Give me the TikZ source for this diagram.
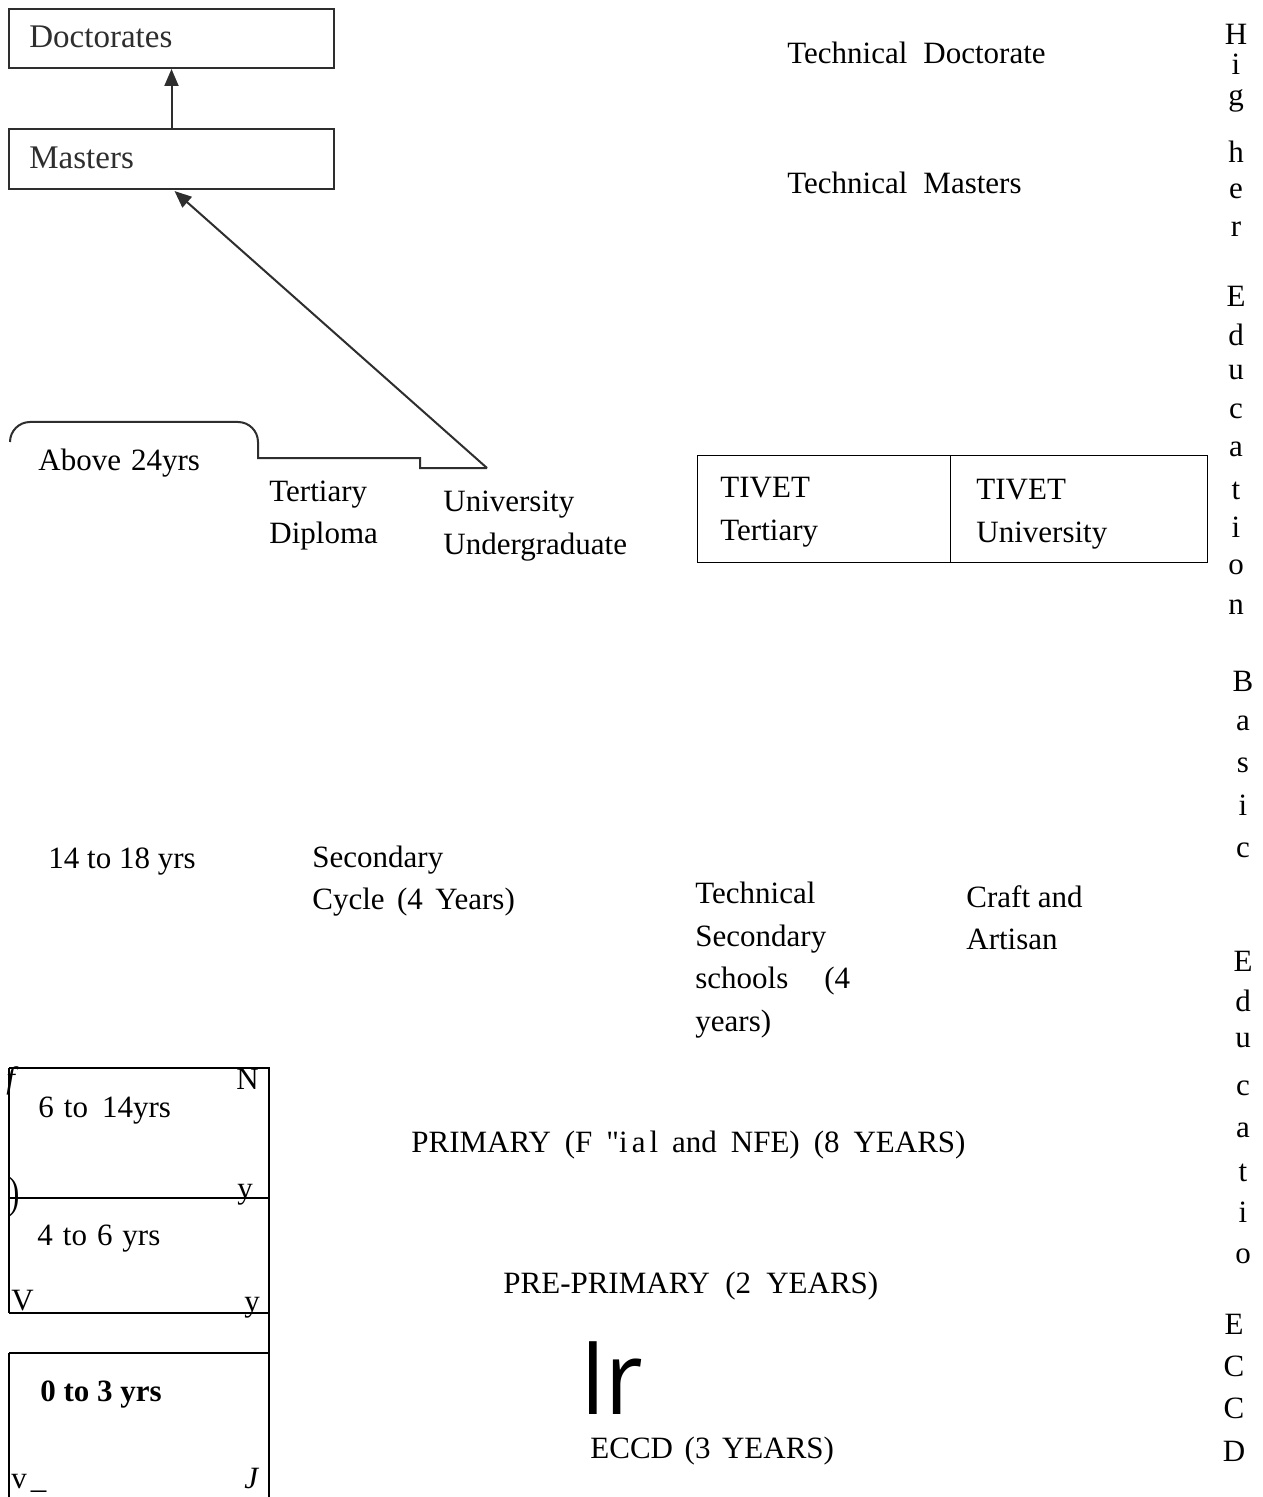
\documentclass[tikz,border=0pt]{standalone}
\usepackage{fontspec}
\setmainfont{Liberation Serif}[Ligatures=TeXOff]
\newfontfamily\bigsans{Open Sans}
\usetikzlibrary{arrows.meta,calc}
\definecolor{scan}{HTML}{2E2E2E}
\newcommand{\wsp}[2]{\spaceskip=#1\relax #2}
\tikzset{
  txt/.style={anchor=base west, inner sep=0pt, font=\fontsize{15.5}{21}\selectfont},
  scantxt/.style={anchor=base west, inner sep=0pt, text=scan, font=\fontsize{16.5}{21}\selectfont},
  letter/.style={anchor=base, inner sep=0pt, font=\fontsize{15.5}{21}\selectfont},
  scanbox/.style={draw=scan, line width=1pt, anchor=north west, inner sep=0pt},
  scanline/.style={draw=scan, line width=1pt},
  tip/.style={-{Triangle[length=8.5pt,width=7pt]}},
  thin/.style={draw=black, line width=0.6pt}
}
\begin{document}
\begin{tikzpicture}[x=0.5pt,y=-0.5pt]
\useasboundingbox[fill=white] (0,0) rectangle (1262,1497);

% scanned part (top left)
\node[scanbox, minimum width=162.5pt, minimum height=29.5pt] (doc) at (8,8) {};
\node[scanbox, minimum width=162.5pt, minimum height=30pt] (mas) at (8,128) {};
\node[scantxt] (doct) at (29,48) {Doctorates};
\node[scantxt] (mast) at (29,169) {Masters};
\draw[scanline, tip] (mas.north) -- (doc.south);
\coordinate (uend) at (487,468);
\draw[scanline] (10,442) .. controls (10,431) and (19,422) .. (30,422) -- (238,422)
   .. controls (249,422) and (258,431) .. (258,442) -- (258,458) -- (420,458) -- (420,468) -- (uend);
\draw[scanline, tip] (uend) -- ($(mas.south)+(3,1)$);

% higher education labels
\node[txt] (above) at (38,470) {\wsp{5pt}{Above 24yrs}};
\node[txt] (td1) at (269,501) {Tertiary};
\node[txt] (td2) at (269,543) {Diploma};
\node[txt] (uu1) at (443,511) {University};
\node[txt] (uu2) at (443,554) {Undergraduate};
\node[txt] (tdoc) at (787,64) {Technical\hspace{8pt}Doctorate};
\node[txt] (tmas) at (787,194) {Technical\hspace{8pt}Masters};

% TIVET box
\node[thin, anchor=north west, minimum width=126.5pt, minimum height=53.5pt, inner sep=0pt] (tiv1) at (697,455) {};
\node[thin, anchor=north west, minimum width=128.5pt, minimum height=53.5pt, inner sep=0pt] (tiv2) at (950,455) {};
\node[txt] (tt1) at (720,497) {TIVET};
\node[txt] (tt2) at (720,540) {Tertiary};
\node[txt] (tu1) at (976,499) {TIVET};
\node[txt] (tu2) at (976,542) {University};

% secondary
\node[txt] (a1418) at (48,868) {14 to 18 yrs};
\node[txt] (sc1) at (312,867) {Secondary};
\node[txt] (sc2) at (312,909) {\wsp{6.2pt}{Cycle (4 Years)}};
\node[txt] (ts1) at (695,903) {Technical};
\node[txt] (ts2) at (695,946) {Secondary};
\node[txt] (ts3) at (695,988) {schools\hspace{18pt}(4};
\node[txt] (ts4) at (695,1031) {years)};
\node[txt] (ca1) at (966,907) {Craft and};
\node[txt] (ca2) at (966,949) {Artisan};

% left age boxes
\draw[thin] (9,1068) -- (269,1068) -- (269,1497);
\draw[thin] (9,1068) -- (9,1313);
\draw[thin] (9,1198) -- (269,1198);
\draw[thin] (9,1313) -- (269,1313);
\draw[thin] (9,1353) -- (269,1353);
\draw[thin] (9,1353) -- (9,1497);
\node[txt] (a614) at (38,1117) {\wsp{5pt}{6 to\hspace{7pt}14yrs}};
\node[txt] (a46) at (37,1245) {\wsp{5pt}{4 to 6 yrs}};
\node[txt, font=\fontsize{15.5}{21}\selectfont\bfseries] (a03) at (40,1401) {0 to 3 yrs};
\node[txt, font=\fontsize{15.5}{21}\selectfont\itshape] (gf) at (6,1088) {f};
\node[txt] (gN) at (236,1089) {N};
\node[txt, yscale=1.4] (gp) at (9,1207) {)};
\node[txt] (gy1) at (237,1198) {y};
\node[txt] (gV) at (11,1310) {V};
\node[txt] (gy2) at (244,1311) {y};
\node[txt] (gv) at (11,1488) {v\hspace{2pt}\_};
\node[txt, font=\fontsize{15.5}{21}\selectfont\itshape] (gJ) at (244,1488) {J};

% primary, pre-primary, ECCD
\node[txt] (prim) at (411,1152) {\wsp{7pt}{PRIMARY (F "i\hspace{2pt}a\hspace{2pt}l and NFE) (8 YEARS)}};
\node[txt] (pprim) at (503,1293) {\wsp{7.6pt}{PRE-PRIMARY (2 YEARS)}};
\node[anchor=base west, inner sep=0pt, font=\bigsans\fontsize{51}{60}\selectfont, xscale=0.9] (ir) at (580,1414) {Ir};
\node[txt] (eccd) at (590,1458) {\wsp{5.8pt}{ECCD (3 YEARS)}};

% vertical lettering on the right
\foreach \c/\xx/\yy [count=\i] in {H/1236/45, i/1236/75, g/1236/106, h/1236/163, e/1236/199, r/1236/237,
  E/1236/307, d/1236/346, u/1236/380, c/1236/419, a/1236/457, t/1236/499, i/1236/537, o/1236/574, n/1236/614,
  B/1243/691, a/1243/730, s/1243/772, i/1243/815, c/1243/857,
  E/1243/971, d/1243/1011, u/1243/1047, c/1243/1095, a/1243/1137, t/1243/1181, i/1243/1222, o/1243/1263,
  E/1234/1334, C/1234/1376, C/1234/1418, D/1234/1461}
  \node[letter] (v\i) at (\xx,\yy) {\c};
\end{tikzpicture}
\end{document}
